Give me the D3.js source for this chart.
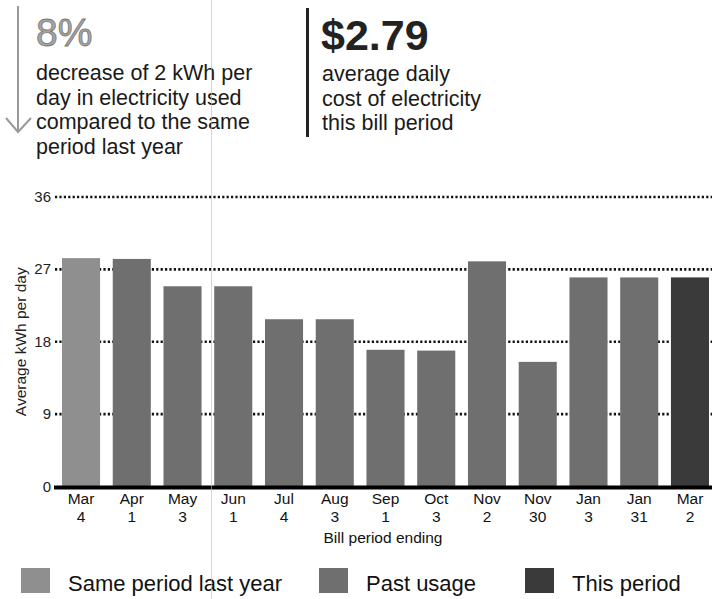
<!DOCTYPE html>
<html>
<head>
<meta charset="utf-8">
<script src="https://cdn.jsdelivr.net/npm/d3@7"></script>
<style>
  body { margin: 0; background: #fff; }
  svg { font-family: "Liberation Sans", Arial, sans-serif; display: block; }
</style>
</head>
<body>
<div id="chart"></div>
<script>
// bill periods (month / day shown on two lines)
const periodMonths = ['Mar', 'Apr', 'May', 'Jun', 'Jul', 'Aug', 'Sep', 'Oct', 'Nov', 'Nov', 'Jan', 'Jan', 'Mar'];
const periodDays = ['4', '1', '3', '1', '4', '3', '1', '3', '2', '30', '3', '31', '2'];
const usage = [28.4, 28.3, 24.9, 24.9, 20.8, 20.8, 17.0, 16.9, 28.0, 15.5, 26.0, 26.0, 26.0];
const kinds = ['last', 'past', 'past', 'past', 'past', 'past', 'past', 'past', 'past', 'past', 'past', 'past', 'this'];
const yTicks = [0, 9, 18, 27, 36];
const legendLabels = ['Same period last year', 'Past usage', 'This period'];
const legendKinds = ['last', 'past', 'this'];
const colors = {last: '#8f8f8f', past: '#6f6f6f', this: '#3a3a3a'};

const width = 712, height = 599;
const margin = {top: 197, right: 3, bottom: 113, left: 62};

const svg = d3.select('#chart').append('svg')
  .attr('width', width).attr('height', height);

// header: percentage change
svg.append('line').attr('x1', 18).attr('x2', 18).attr('y1', 6).attr('y2', 132)
  .attr('stroke', '#999').attr('stroke-width', 2);
svg.append('path').attr('d', 'M6,118 L18,132 L31,118')
  .attr('fill', 'none').attr('stroke', '#999').attr('stroke-width', 2);
svg.append('text').attr('x', 36).attr('y', 46).text('8%')
  .attr('font-size', 39).attr('fill', '#a5a5a5').attr('stroke', '#777').attr('stroke-width', 0.8);
['decrease of 2 kWh per', 'day in electricity used', 'compared to the same', 'period last year']
  .forEach((t, i) => svg.append('text').attr('x', 36).attr('y', 80 + i * 24.7)
    .attr('font-size', 21.5).attr('fill', '#1a1a1a').text(t));

// header: daily cost
svg.append('line').attr('x1', 307.5).attr('x2', 307.5).attr('y1', 8).attr('y2', 137)
  .attr('stroke', '#222').attr('stroke-width', 3);
svg.append('text').attr('x', 321).attr('y', 50).text('$2.79')
  .attr('font-size', 43).attr('font-weight', 'bold').attr('fill', '#222');
['average daily', 'cost of electricity', 'this bill period']
  .forEach((t, i) => svg.append('text').attr('x', 322).attr('y', 81 + i * 24.7)
    .attr('font-size', 21.5).attr('fill', '#1a1a1a').text(t));

const x = d3.scaleBand().domain(d3.range(usage.length))
  .range([margin.left, width - margin.right]).paddingInner(0.25).paddingOuter(0);
const y = d3.scaleLinear().domain([0, 36]).range([height - margin.bottom + 0.5, margin.top]);

// dotted gridlines
svg.append('g').selectAll('line').data(yTicks.filter(d => d > 0)).join('line')
  .attr('x1', 55).attr('x2', width).attr('y1', d => y(d)).attr('y2', d => y(d))
  .attr('stroke', '#111').attr('stroke-width', 2.6).attr('stroke-dasharray', '2.2,2.2');

// y tick labels
svg.append('g').selectAll('text').data(yTicks).join('text')
  .attr('x', 51).attr('y', d => y(d) + 5).attr('text-anchor', 'end')
  .attr('font-size', 15).attr('fill', '#222').text(d => d);

// bars
svg.append('g').selectAll('rect').data(usage).join('rect')
  .attr('x', (d, i) => x(i)).attr('width', x.bandwidth())
  .attr('y', d => y(d)).attr('height', d => y(0) - y(d))
  .attr('fill', (d, i) => colors[kinds[i]]);

// baseline
svg.append('line').attr('x1', 54).attr('x2', width).attr('y1', y(0) + 1).attr('y2', y(0) + 1)
  .attr('stroke', '#000').attr('stroke-width', 4);

// x labels
const xl = svg.append('g').selectAll('text').data(periodMonths).join('text')
  .attr('text-anchor', 'middle').attr('font-size', 15.5).attr('fill', '#111')
  .attr('transform', (d, i) => `translate(${x(i) + x.bandwidth() / 2},0)`);
xl.append('tspan').attr('x', 0).attr('y', 504).text(d => d);
xl.append('tspan').attr('x', 0).attr('y', 522).text((d, i) => periodDays[i]);

svg.append('text').attr('x', 383).attr('y', 543).attr('text-anchor', 'middle')
  .attr('font-size', 15.5).attr('fill', '#111').text('Bill period ending');

svg.append('text').attr('transform', `translate(26,${(y(0) + y(36)) / 2}) rotate(-90)`)
  .attr('text-anchor', 'middle').attr('font-size', 15.5).attr('fill', '#222')
  .text('Average kWh per day');

// legend
const legendX = [21, 319, 525];
const lg = svg.append('g').selectAll('g').data(legendLabels).join('g')
  .attr('transform', (d, i) => `translate(${legendX[i]},568)`);
lg.append('rect').attr('width', 29).attr('height', 25)
  .attr('fill', (d, i) => colors[legendKinds[i]]);
lg.append('text').attr('x', 47).attr('y', 23).attr('font-size', 22).attr('fill', '#111').text(d => d);

// faint scanner line
svg.append('line').attr('x1', 211.5).attr('x2', 211.5).attr('y1', 0).attr('y2', height)
  .attr('stroke', '#bbb').attr('stroke-width', 1).attr('opacity', 0.6);
</script>
</body>
</html>
